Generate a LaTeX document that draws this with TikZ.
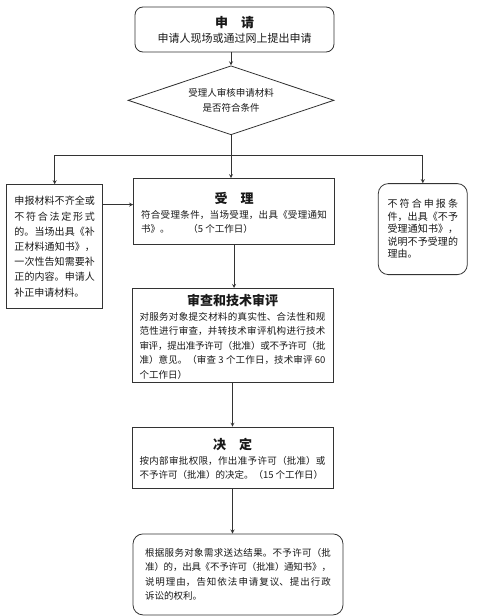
\documentclass[tikz,border=0pt]{standalone}
\usepackage{fontspec}
\newfontfamily\cjk{Noto Sans CJK SC}
\usetikzlibrary{positioning}
\usetikzlibrary{calc}
\usetikzlibrary{shapes.geometric}
\XeTeXlinebreaklocale "zh"
\XeTeXlinebreakskip=0pt plus 1pt minus 0.5pt
\newcommand{\titlefont}{\fontsize{13}{16}\selectfont\bfseries}
\newcommand{\boxtitle}[1]{\par\centerline{\titlefont #1}}
\tikzset{box/.style={draw=black!80, line width=0.8pt, inner xsep=6pt, inner ysep=3pt, text=black!90}}
\tikzset{roundbox/.style={box, rounded corners=8pt}}

\begin{document}
\begin{tikzpicture}[x=1pt, y=-1pt,
    font=\cjk\fontsize{9.5}{14.5}\selectfont,
    mainbox/.style={box, minimum width=201pt, text width=186pt, align=justify},
    sidebox/.style={box, align=justify},
    arrow/.style={-stealth, line width=0.8pt, draw=black!80},
]

    \useasboundingbox[fill=white] (0,0) rectangle (477,616);

    \node[roundbox, minimum width=199pt, minimum height=45pt, align=center, font=\cjk\fontsize{11}{14}\selectfont] (apply) at (234.5,29.5) {{\titlefont 申\quad 请}\\[1pt]申请人现场或通过网上提出申请};
    \node[box, diamond, aspect=3, inner sep=0pt, minimum width=206pt, minimum height=69pt, align=center, below=13pt of apply, xshift=-3.5pt] (check) {受理人审核申请材料\\是否符合条件};

    \node[mainbox, minimum height=66pt, below=43pt of check, xshift=3pt] (accept) {\boxtitle{受\quad 理}符合受理条件，当场受理，出具《受理通知\linebreak 书》。\hspace{2em}（5 个工作日）};
    \node[mainbox, minimum height=93pt, below=43pt of accept, xshift=-1.5pt] (review) {\boxtitle{审查和技术审评}对服务对象提交材料的真实性、合法性和规\linebreak 范性进行审查，并转技术审评机构进行技术\linebreak 审评，提出准予许可（批准）或不予许可（批\linebreak 准）意见。（审查 3 个工作日，技术审评 60\linebreak 个工作日）};
    \node[mainbox, minimum height=61pt, below=44pt of review] (decide) {\boxtitle{决\quad 定}按内部审批权限，作出准予许可（批准）或\linebreak 不予许可（批准）的决定。（15 个工作日）};
    \node[mainbox, rounded corners=10pt, minimum width=210pt, minimum height=81pt, below=45pt of decide, xshift=5.5pt] (notify) {根据服务对象需求送达结果。不予许可（批\linebreak 准）的，出具《不予许可（批准）通知书》，\linebreak 说明理由，告知依法申请复议、提出行政\linebreak 诉讼的权利。};

    \node[sidebox, font=\cjk\fontsize{10}{15.2}\selectfont, text width=80.5pt, minimum width=96pt, minimum height=124pt, left=30pt of accept, yshift=-35pt] (supply) {申报材料不齐全或\linebreak 不符合法定形式\linebreak 的。当场出具《补\linebreak 正材料通知书》，\linebreak 一次性告知需要补\linebreak 正的内容。申请人\linebreak 补正申请材料。};
    \node[sidebox, rounded corners=10pt, font=\cjk\fontsize{10}{12.5}\selectfont, text width=70.5pt, minimum width=89pt, minimum height=91pt, right=43pt of accept, yshift=-17.5pt] (reject) {不符合申报条\linebreak 件，出具《不予\linebreak 受理通知书》，\linebreak 说明不予受理的\linebreak 理由。};

    % connectors
    \draw[arrow] (check.north |- apply.south) -- (check.north);
    \coordinate (acctop) at (check.south |- accept.north);
    \draw[arrow] (check.south) -- (acctop);
    \coordinate (split) at ($(check.south)!0.465!(acctop)$);
    \draw[arrow] (split) -| (supply.north);
    \draw[arrow] (split) -| (reject.north);
    \coordinate (feed) at ([yshift=7pt]accept.west);
    \draw[arrow] (supply.east |- feed) -- (feed);
    \draw[arrow] (accept.south) -- (accept.south |- review.north);
    \draw[arrow] (review.south) -- (review.south |- decide.north);
    \draw[arrow] (decide.south) -- (decide.south |- notify.north);

\end{tikzpicture}
\end{document}
